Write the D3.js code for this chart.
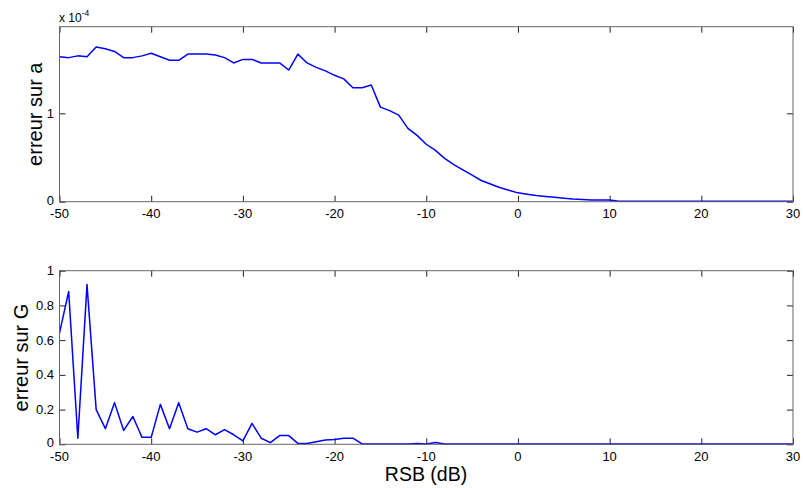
<!DOCTYPE html>
<html><head><meta charset="utf-8">
<script src="https://cdn.jsdelivr.net/npm/d3@7"></script>
<style>body{margin:0;background:#fff}svg{display:block}text{font-family:"Liberation Sans",Arial,sans-serif;fill:#000}</style>
</head><body>
<script>
const rsb = d3.range(-50, 31, 1);
const erreurA = [1.64,1.63,1.65,1.64,1.75,1.73,1.70,1.63,1.63,1.65,1.68,1.64,1.60,1.60,1.67,1.67,1.67,1.66,1.63,1.57,1.61,1.61,1.57,1.57,1.57,1.49,1.67,1.57,1.52,1.48,1.43,1.39,1.29,1.29,1.32,1.07,1.03,0.98,0.83,0.75,0.65,0.58,0.49,0.42,0.36,0.30,0.24,0.20,0.16,0.13,0.10,0.085,0.07,0.06,0.05,0.04,0.03,0.025,0.02,0.02,0.018,0.005,0.005,0.005,0.005,0.005,0.005,0.005,0.005,0.005,0.005,0.005,0.005,0.005,0.005,0.005,0.005,0.005,0.005,0.005,0.005];
const erreurG = [0.64,0.88,0.035,0.92,0.20,0.09,0.24,0.08,0.16,0.04,0.04,0.23,0.09,0.24,0.09,0.07,0.09,0.055,0.085,0.055,0.02,0.12,0.035,0.01,0.05,0.05,0.005,0.005,0.015,0.025,0.028,0.035,0.035,0.002,0.002,0.002,0.002,0.002,0.002,0.005,0.002,0.01,0.002,0.002,0.002,0.002,0.002,0.002,0.002,0.002,0.002,0.002,0.002,0.002,0.002,0.002,0.002,0.002,0.002,0.002,0.002,0.002,0.002,0.002,0.002,0.002,0.002,0.002,0.002,0.002,0.002,0.002,0.002,0.002,0.002,0.002,0.002,0.002,0.002,0.002,0.002];
const xTicks = [-50,-40,-30,-20,-10,0,10,20,30];
const yTicksA = [0,1];
const yTicksG = [0,0.2,0.4,0.6,0.8,1];

const W = 803, H = 488;
const svg = d3.select("body").append("svg").attr("width", W).attr("height", H);
const L = 59.5, R = 793;
const x = d3.scaleLinear().domain([-50,30]).range([L,R]);

function panel(top, bottom, ydom, yticks, data, ylabel, ylabX, yfmt) {
  const y = d3.scaleLinear().domain(ydom).range([bottom, top]);
  const g = svg.append("g");
  const tl = 6;
  g.append("g").attr("transform", `translate(0,${bottom})`)
    .call(d3.axisBottom(x).tickValues(xTicks).tickSize(-tl).tickFormat(""))
    .call(a => a.select(".domain").remove());
  g.append("g").attr("transform", `translate(0,${top})`)
    .call(d3.axisTop(x).tickValues(xTicks).tickSize(-tl).tickFormat(""))
    .call(a => a.select(".domain").remove());
  g.append("g").attr("transform", `translate(${L},0)`)
    .call(d3.axisLeft(y).tickValues(yticks).tickSize(-tl).tickFormat(""))
    .call(a => a.select(".domain").remove());
  g.append("g").attr("transform", `translate(${R},0)`)
    .call(d3.axisRight(y).tickValues(yticks).tickSize(-tl).tickFormat(""))
    .call(a => a.select(".domain").remove());
  g.selectAll(".tick line").attr("stroke", "#222");
  g.selectAll(".xl").data(xTicks).enter().append("text")
    .attr("x", d => x(d)).attr("y", bottom + 16.5).attr("text-anchor", "middle")
    .attr("font-size", 13).text(d => d);
  g.selectAll(".yl").data(yticks).enter().append("text")
    .attr("x", L - 5.5).attr("y", d => y(d) + (d === 0 ? 3 : 4.5)).attr("text-anchor", "end")
    .attr("font-size", 13).text(yfmt);
  g.append("path").datum(data)
    .attr("fill", "none").attr("stroke", "#0000ff").attr("stroke-width", 1.5)
    .attr("stroke-linejoin", "round")
    .attr("d", d3.line().x((d,i) => x(rsb[i])).y(d => y(d)));
  g.append("rect").attr("x", L).attr("y", top).attr("width", R - L).attr("height", bottom - top)
    .attr("fill", "none").attr("stroke", "#666").attr("stroke-width", 1);
  g.append("text").attr("transform", `translate(${ylabX},${(top+bottom)/2}) rotate(-90)`)
    .attr("text-anchor", "middle").attr("font-size", 20).text(ylabel);
  return y;
}

panel(26.7, 201.7, [0, 1.98], yTicksA, erreurA, "erreur sur a", 42, d => d);
panel(270.7, 444.3, [0, 1], yTicksG, erreurG, "erreur sur G", 28, d => d === 0 || d === 1 ? d : d.toFixed(1));

const mult = svg.append("text").attr("x", 59).attr("y", 22).attr("font-size", 12);
mult.append("tspan").text("x 10");
mult.append("tspan").attr("dy", -6).attr("font-size", 8.5).text("-4");

svg.append("text").attr("x", 426).attr("y", 481).attr("text-anchor", "middle")
  .attr("font-size", 19.5).text("RSB (dB)");
</script>
</body></html>
